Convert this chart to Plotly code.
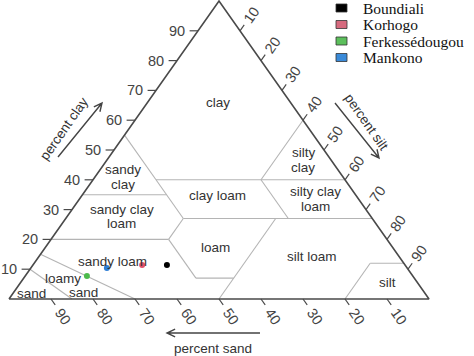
import math
import plotly.graph_objects as go

# ---------------- data ----------------
sites = ["Boundiali", "Korhogo", "Ferkessédougou", "Mankono"]
sand_pct = [56.7, 62.6, 77.6, 71.5]
silt_pct = [31.9, 26.0, 14.7, 18.1]
clay_pct = [11.4, 11.4, 7.7, 10.4]
point_colors = ["#000000", "#e0506a", "#4cbb4c", "#2f7fd6"]
legend_colors = ["#000000", "#d66a7e", "#5cbf5c", "#3a8ad8"]

tick_values = [10, 20, 30, 40, 50, 60, 70, 80, 90]

# USDA class boundaries as (sand, silt, clay)
boundaries = [
    [(45, 0, 55), (45, 15, 40)],
    [(45, 15, 40), (0, 60, 40)],
    [(20, 40, 40), (0, 40, 60)],
    [(65, 0, 35), (45, 20, 35)],
    [(45, 15, 40), (45, 28, 27)],
    [(80, 0, 20), (52, 28, 20)],
    [(52, 28, 20), (45, 28, 27)],
    [(45, 28, 27), (0, 73, 27)],
    [(20, 40, 40), (20, 53, 27)],
    [(52, 28, 20), (52, 41, 7)],
    [(52, 41, 7), (43, 50, 7)],
    [(50, 50, 0), (23, 50, 27)],
    [(20, 80, 0), (8, 80, 12)],
    [(8, 80, 12), (0, 88, 12)],
    [(85, 0, 15), (70, 30, 0)],
    [(90, 0, 10), (85, 15, 0)],
]

# texture class label lines: (text, sand, silt, clay)
class_labels = [
    ("clay", 17.3, 16.9, 65.8),
    ("sandy", 51.2, 5.5, 43.3),
    ("clay", 53.7, 8.0, 38.3),
    ("clay loam", 33.0, 32.1, 34.9),
    ("silty", 5.5, 45.5, 49.0),
    ("clay", 8.0, 48.0, 44.0),
    ("silty clay", 9.0, 54.8, 36.2),
    ("loam", 11.5, 57.3, 31.2),
    ("sandy clay", 58.0, 11.8, 30.2),
    ("loam", 60.5, 14.3, 25.2),
    ("loam", 42.2, 40.4, 17.4),
    ("silt loam", 20.6, 65.0, 14.4),
    ("sandy loam", 68.9, 18.4, 12.7),
    ("loamy", 83.6, 9.4, 7.0),
    ("sand", 81.2, 16.5, 2.3),
    ("sand", 93.7, 4.6, 1.7),
    ("silt", 7.3, 87.3, 5.4),
]

# ---------------- helpers ----------------
W, H = 474, 356


def tern(sand, silt, clay):
    return silt + clay / 2.0, clay


def px2paper(x, y):
    return x / W, 1 - y / H


fig = go.Figure()

# class boundaries
bx, by = [], []
for seg in boundaries:
    for s, si, c in seg:
        x, y = tern(s, si, c)
        bx.append(x)
        by.append(y)
    bx.append(None)
    by.append(None)
fig.add_trace(go.Scatter(x=bx, y=by, mode="lines", line=dict(color="#b4b4b4", width=1.1),
                         hoverinfo="skip", showlegend=False))

# triangle frame
corners = [(100, 0, 0), (0, 100, 0), (0, 0, 100), (100, 0, 0)]
fx, fy = zip(*[tern(*c) for c in corners])
fig.add_trace(go.Scatter(x=fx, y=fy, mode="lines", line=dict(color="#4a4a4a", width=1.6),
                         hoverinfo="skip", showlegend=False))

# ticks (extensions of grid lines outward)
d = 2.0
tx, ty = [], []
for v in tick_values:
    for p in [(100 - v, 0, v), (100 - v + d, -d, v)]:
        x, y = tern(*p); tx.append(x); ty.append(y)
    tx.append(None); ty.append(None)
    for p in [(0, v, 100 - v), (-d, v, 100 - v + d)]:
        x, y = tern(*p); tx.append(x); ty.append(y)
    tx.append(None); ty.append(None)
    for p in [(v, 100 - v, 0), (v, 100 - v + d, -d)]:
        x, y = tern(*p); tx.append(x); ty.append(y)
    tx.append(None); ty.append(None)
fig.add_trace(go.Scatter(x=tx, y=ty, mode="lines", line=dict(color="#4a4a4a", width=1.2),
                         hoverinfo="skip", showlegend=False))

# sample points
for name, s, si, c, col in zip(sites, sand_pct, silt_pct, clay_pct, point_colors):
    x, y = tern(s, si, c)
    fig.add_trace(go.Scatter(x=[x], y=[y], mode="markers", name=name,
                             marker=dict(color=col, size=6), showlegend=False))

annotations = []
tick_font = dict(family="Liberation Sans, Arial, sans-serif", size=14.5, color="#444444")
for v in tick_values:
    x, y = tern(100 - v + 2.7, -2.7, v)
    annotations.append(dict(x=x, y=y, xref="x", yref="y", text=str(v), showarrow=False,
                            xanchor="right", yanchor="middle", font=tick_font))
    x, y = tern(-5.4, v, 100 - v + 5.4)
    annotations.append(dict(x=x, y=y, xref="x", yref="y", text=str(v), showarrow=False,
                            xanchor="center", yanchor="middle", textangle=-55, font=tick_font))
    x, y = tern(v, 100 - v + 5.9, -5.9)
    annotations.append(dict(x=x, y=y, xref="x", yref="y", text=str(v), showarrow=False,
                            xanchor="center", yanchor="middle", textangle=55, font=tick_font))

label_font = dict(family="Liberation Sans, Arial, sans-serif", size=13.5, color="#333333")
for text, s, si, c in class_labels:
    x, y = tern(s, si, c)
    annotations.append(dict(x=x, y=y, xref="x", yref="y", text=text, showarrow=False,
                            xanchor="center", yanchor="middle", font=label_font))

# axis titles
title_font = dict(family="Liberation Sans, Arial, sans-serif", size=13.5, color="#333333")
for text, (px, py), ang in [("percent clay", (64, 128), -55),
                            ("percent silt", (367, 122), 55),
                            ("percent sand", (213, 348), 0)]:
    xp, yp = px2paper(px, py)
    annotations.append(dict(x=xp, y=yp, xref="paper", yref="paper", text=text, showarrow=False,
                            xanchor="center", yanchor="middle", textangle=ang, font=title_font))

# legend (manual, to match compact row spacing)
leg_font = dict(family="Liberation Serif, Times New Roman, serif", size=15.5, color="#111111")
shapes = []
for i, (name, col) in enumerate(zip(sites, legend_colors)):
    cy = 8 + i * 16.5
    x0, y0 = px2paper(336, cy - 4)
    x1, y1 = px2paper(347, cy + 4)
    shapes.append(dict(type="rect", xref="paper", yref="paper", x0=x0, y0=y1, x1=x1, y1=y0,
                       fillcolor=col, line=dict(color="#333333", width=0.8)))
    xt, yt = px2paper(361, cy)
    annotations.append(dict(x=xt, y=yt, xref="paper", yref="paper", text=name, showarrow=False,
                            xanchor="left", yanchor="middle", font=leg_font))


# arrows for axis titles
def arrow(x0, y0, x1, y1, head=9, spread=0.45):
    ang = math.atan2(y1 - y0, x1 - x0)
    pts = []
    for sgn in (-1, 1):
        a = ang + math.pi + sgn * spread
        pts.append((x1 + head * math.cos(a), y1 + head * math.sin(a)))

    def P(x, y):
        u, v = px2paper(x, y)
        return f"{u:.5f},{v:.5f}"
    path = f"M{P(x0, y0)} L{P(x1, y1)} M{P(*pts[0])} L{P(x1, y1)} L{P(*pts[1])}"
    return dict(type="path", xref="paper", yref="paper", path=path,
                line=dict(color="#444444", width=1.4))


shapes.append(arrow(58, 157, 102, 103))
shapes.append(arrow(335, 103, 379, 158))
shapes.append(arrow(260, 333, 167, 333))

fig.update_layout(
    width=W, height=H, autosize=False,
    margin=dict(l=0, r=0, t=0, b=0),
    paper_bgcolor="white", plot_bgcolor="white",
    xaxis=dict(range=[-9 / 4.2, (W - 9) / 4.2], visible=False, fixedrange=True),
    yaxis=dict(range=[(299 - H) / 2.98, 299 / 2.98], visible=False, fixedrange=True),
    annotations=annotations, shapes=shapes, showlegend=False,
)

fig.write_html("out.html", config={"displayModeBar": False},
               post_script="document.body.style.margin='0px';")
